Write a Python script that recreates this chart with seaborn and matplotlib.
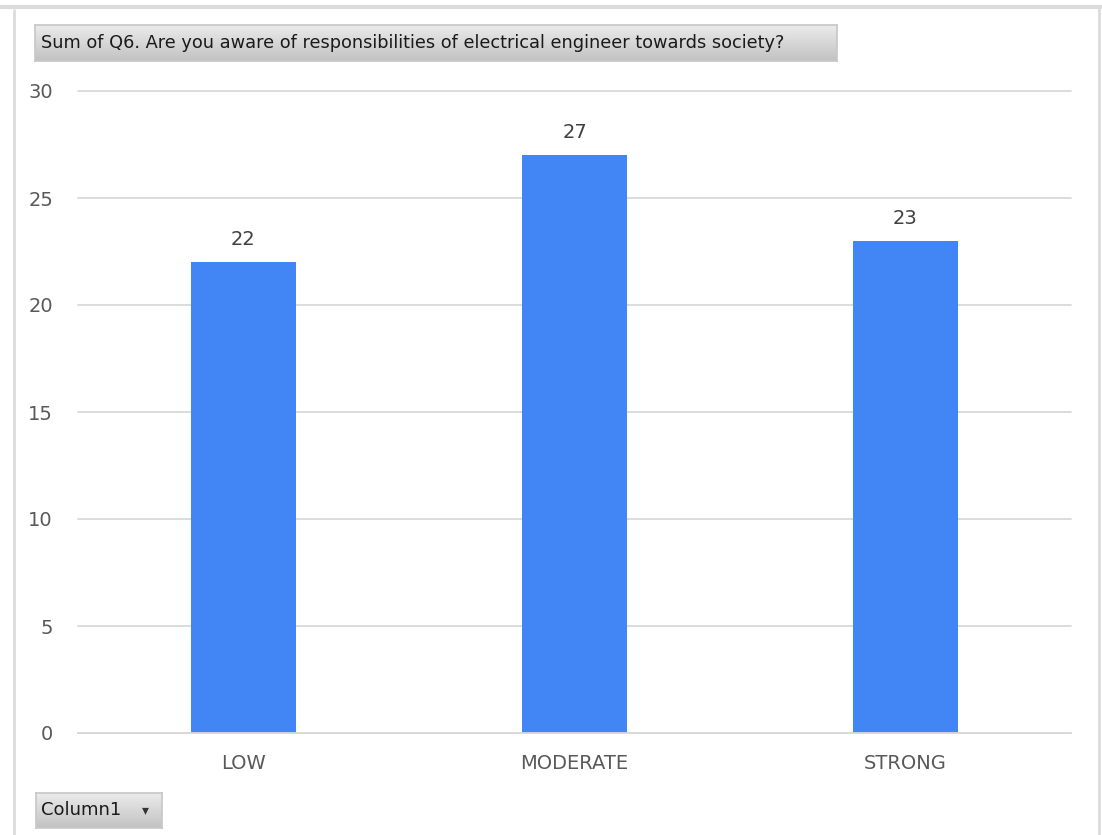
import matplotlib
matplotlib.use('Agg')
import matplotlib.pyplot as plt
import seaborn as sns
import pandas as pd
import numpy as np

# Chart data
categories = ['LOW', 'MODERATE', 'STRONG']
counts = [22, 27, 23]
title_text = 'Sum of Q6. Are you aware of responsibilities of electrical engineer towards society?'
button_text = 'Column1'

df = pd.DataFrame({'level': categories, 'count': counts})

sns.set_theme(style='white')
plt.rcParams['font.family'] = ['DejaVu Sans']

W, H = 1102, 835
fig = plt.figure(figsize=(W / 100, H / 100), dpi=100)
fig.patch.set_facecolor('white')

# outer frame lines
fig.add_artist(plt.Line2D([0, 1], [1 - 7 / H, 1 - 7 / H], color='#dcdcdc', lw=3))
fig.add_artist(plt.Line2D([14 / W, 14 / W], [0, 1 - 10 / H], color='#dcdcdc', lw=2))
fig.add_artist(plt.Line2D([1099 / W, 1099 / W], [0, 1 - 7 / H], color='#dcdcdc', lw=2))

ax = fig.add_axes([78 / W, (H - 733) / H, (1071 - 78) / W, (733 - 91) / H])
sns.barplot(data=df, x='level', y='count', color='#4285f4', width=0.315, ax=ax,
            saturation=1, linewidth=0)
ax.set_ylim(0, 30)
ax.set_yticks(range(0, 31, 5))
ax.set_xlabel('')
ax.set_ylabel('')
ax.grid(axis='y', color='#d9d9d9', lw=1.3)
for gl in ax.get_ygridlines():
    gl.set_clip_on(False)
ax.set_axisbelow(True)
for s in ['top', 'right', 'left']:
    ax.spines[s].set_visible(False)
ax.spines['bottom'].set_color('#d9d9d9')
ax.spines['bottom'].set_linewidth(1.3)
ax.tick_params(axis='both', length=0, labelsize=14, colors='#595959')
ax.tick_params(axis='y', pad=18)
ax.tick_params(axis='x', pad=15)

for p, v in zip(ax.patches, counts):
    ax.text(p.get_x() + p.get_width() / 2, v + 0.6, str(v), ha='center', va='bottom',
            fontsize=14, color='#404040')


def grey_box(x0, y0, x1, y1):
    # pixel coords from top-left; vertical gradient like the pivot buttons
    bax = fig.add_axes([x0 / W, (H - y1) / H, (x1 - x0) / W, (y1 - y0) / H])
    grad = np.linspace(0.92, 0.76, 50).reshape(-1, 1)
    bax.imshow(grad, aspect='auto', cmap='gray', vmin=0, vmax=1, extent=[0, 1, 0, 1])
    bax.set_xticks([])
    bax.set_yticks([])
    for s in bax.spines.values():
        s.set_color('#c8c8c8')
    return bax


# title box
grey_box(35, 25, 837, 61)
fig.text(41 / W, (H - 43) / H, title_text, ha='left', va='center', fontsize=12.8,
         color='#1a1a1a')

# Column1 button
grey_box(36, 793, 162, 828)
fig.text(41 / W, (H - 810) / H, button_text, ha='left', va='center', fontsize=13,
         color='#1a1a1a')
fig.text(145 / W, (H - 810) / H, '\u25be', ha='center', va='center', fontsize=10,
         color='#333333')

fig.savefig('out.png', dpi=100)
